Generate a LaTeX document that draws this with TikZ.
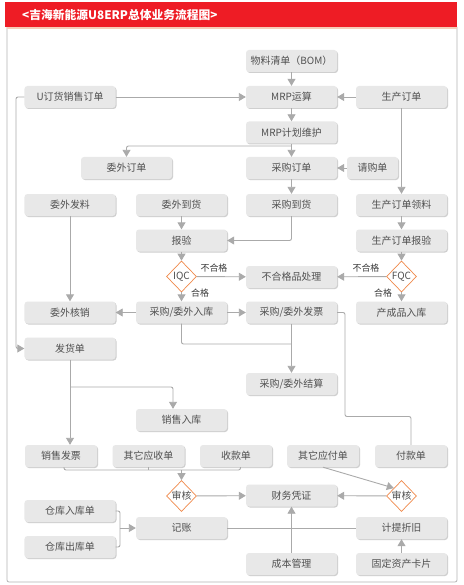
\documentclass[tikz,border=0pt]{standalone}
\usepackage{fontspec}
\setmainfont{Noto Sans CJK SC}
\usetikzlibrary{arrows.meta,shapes.geometric,shadows}
\definecolor{boxfill}{HTML}{E8E8E8}
\definecolor{shadowc}{HTML}{CFCFCF}
\definecolor{textc}{HTML}{505050}
\definecolor{linec}{HTML}{AAAAAA}
\definecolor{dmd}{HTML}{F0894A}
\definecolor{titlered}{HTML}{EE1C25}
\definecolor{peach}{HTML}{F6CDB9}
\definecolor{framec}{HTML}{B4B4B4}
\tikzset{
  box/.style={rectangle, rounded corners=3bp, fill=boxfill, minimum width=91bp, minimum height=22bp,
    inner sep=0pt, text=textc, font=\fontsize{10}{12}\selectfont,
    drop shadow={shadow xshift=1bp, shadow yshift=-1bp, opacity=1, fill=shadowc}},
  sbox/.style={box, minimum width=72bp},
  dia/.style={diamond, draw=dmd, line width=0.7bp, fill=white, aspect=1, minimum width=30bp, minimum height=31bp,
    inner sep=0pt, text=textc, font=\fontsize{10}{12}\selectfont},
  conn/.style={draw=linec, line width=0.9bp, rounded corners=2bp},
  arr/.style={conn, -{Triangle[length=7bp,width=8bp]}},
  lbl/.style={text=textc!70!black, font=\fontsize{9}{11}\selectfont, inner sep=0pt}
}
\begin{document}
\begin{tikzpicture}[x=1bp,y=-1bp]
\useasboundingbox (0,0) rectangle (464,585);
% frame and title
\fill[white] (0,0) rectangle (464,585);
\draw[framec, line width=0.8bp, rounded corners=2bp] (7,27) -- (7,582) -- (457,582) -- (457,27);
\fill[peach] (7,27) rectangle (457,29.5);
\fill[titlered] (5,2) rectangle (457,27);
\node[anchor=west, text=white, font=\fontsize{11.8}{14}\selectfont\bfseries, inner sep=0pt] (title) at (22,15) {<吉海新能源U8ERP总体业务流程图>};

% nodes
\node[box] (bom) at (291.5,61) {物料清单（BOM）};
\node[box] (uorder) at (70,97) {U订货销售订单};
\node[box] (mrp) at (291.5,97) {MRP运算};
\node[box] (prodorder) at (401.5,97) {生产订单};
\node[box] (mrpplan) at (291.5,132.5) {MRP计划维护};
\node[box] (wworder) at (126.5,168) {委外订单};
\node[box] (poorder) at (291.5,168) {采购订单};
\node[box, minimum width=51bp] (qgd) at (372.5,168) {请购单};
\node[box] (wwfl) at (70,205) {委外发料};
\node[box] (wwdh) at (181.5,205) {委外到货};
\node[box] (podh) at (291.5,205) {采购到货};
\node[box] (prodpick) at (401.5,205) {生产订单领料};
\node[box] (bj) at (181.5,240.5) {报验};
\node[box] (prodbj) at (401.5,240.5) {生产订单报验};
\node[dia] (iqc) at (181.5,276.5) {IQC};
\node[box] (bhg) at (291.5,277) {不合格品处理};
\node[dia] (fqc) at (401.5,276.5) {FQC};
\node[box] (wwhx) at (70,312.5) {委外核销};
\node[box] (cgrk) at (181.5,312.5) {采购/委外入库};
\node[box] (cgfp) at (291.5,312.5) {采购/委外发票};
\node[box] (ccprk) at (401.5,312.5) {产成品入库};
\node[box] (fhd) at (70,348.5) {发货单};
\node[box] (cgjs) at (291.5,384) {采购/委外结算};
\node[box] (xsrk) at (181.5,420) {销售入库};
\node[sbox] (xsfp) at (61,456) {销售发票};
\node[sbox] (qtys) at (148.5,456) {其它应收单};
\node[sbox] (skd) at (236,456) {收款单};
\node[sbox] (qtyf) at (323,456) {其它应付单};
\node[sbox] (fkd) at (411,456) {付款单};
\node[dia] (shL) at (181.5,496) {审核};
\node[box] (cwpz) at (291.5,495.5) {财务凭证};
\node[dia] (shR) at (401.5,496) {审核};
\node[box] (ckrk) at (70,511) {仓库入库单};
\node[box] (jz) at (181.5,528) {记账};
\node[box] (jtzj) at (401.5,528) {计提折旧};
\node[box] (ckck) at (70,547) {仓库出库单};
\node[box] (cbgl) at (291.5,564) {成本管理};
\node[box] (gdzc) at (401.5,564) {固定资产卡片};

% labels
\node[lbl] (l1) at (214,268) {不合格};
\node[lbl] (l2) at (366,268) {不合格};
\node[lbl] (l3) at (200,293) {合格};
\node[lbl] (l4) at (383,293) {合格};

% coordinates
\coordinate (ul) at (16,97);
\coordinate (j1) at (291.5,146);
\coordinate (j2) at (291.5,344);
\coordinate (j3) at (345,416.5);
\coordinate (j4) at (70,387);
\coordinate (j5) at (181.5,470);
\coordinate (j6) at (120,528);

% connectors
\draw[arr] (bom) -- (mrp);
\draw[arr] (uorder) -- (mrp);
\draw[arr] (prodorder) -- (mrp);
\draw[arr] (mrp) -- (mrpplan);
\draw[conn] (mrpplan.south) -- (j1);
\draw[arr] (j1) -- (poorder.north);
\draw[arr] (j1) -| (wworder.north);
\draw[arr] (qgd) -- (poorder);
\draw[arr] (prodorder) -- (prodpick);
\draw[arr] (uorder.west) -- (ul) |- (fhd.west);
\draw[arr] (poorder) -- (podh);
\draw[arr] (wwdh) -- (bj);
\draw[arr] (podh.south) |- (bj.east);
\draw[arr] (prodpick) -- (prodbj);
\draw[arr] (bj) -- (iqc);
\draw[arr] (prodbj) -- (fqc);
\draw[arr] (iqc) -- (bhg);
\draw[arr] (fqc) -- (bhg);
\draw[arr] (iqc) -- (cgrk);
\draw[arr] (fqc) -- (ccprk);
\draw[arr] (wwfl) -- (wwhx);
\draw[arr] (cgrk) -- (wwhx);
\draw[arr] (cgrk) -- (cgfp);
\draw[conn] (cgrk.south) |- (j2);
\draw[arr] (cgfp) -- (cgjs);
\draw[conn] (cgfp.east) -| (j3) -| (fkd.north);
\draw[arr] (fhd.south) -- (fhd.south |- xsfp.north);
\draw[arr] (j4) -| ([xshift=-8.5bp]xsrk.north);
\draw[conn] ([xshift=3bp]xsfp.south) |- ([xshift=4.5bp]skd.south |- j5) -- ([xshift=4.5bp]skd.south);
\draw[conn] (qtys.south) -- (qtys.south |- j5);
\draw[arr] (j5) -- (shL.north);
\draw[arr] (qtyf.south) -- (shR.north west);
\draw[arr] (shL) -- (cwpz);
\draw[arr] (shR) -- (cwpz);
\draw[conn] (ckrk.east) -| (j6);
\draw[conn] (ckck.east) -| (j6);
\draw[arr] (j6) -- (jz.west);
\draw[conn] (jz) -- (jtzj);
\draw[arr] (cbgl) -- (cwpz);
\draw[arr] (gdzc) -- (jtzj);
\end{tikzpicture}
\end{document}
